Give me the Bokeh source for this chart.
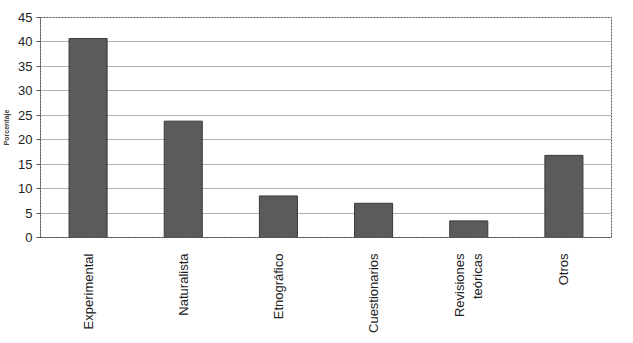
import math
from bokeh.plotting import figure
from bokeh.models import FactorRange, Range1d, FixedTicker, ColumnDataSource
from bokeh.embed import file_html
from bokeh.resources import INLINE

categories = ["Experimental", "Naturalista", "Etnográfico", "Cuestionarios",
              "Revisiones\nteóricas", "Otros"]
porcentaje = [40.7, 23.8, 8.5, 7.0, 3.4, 16.8]
y_ticks = [0, 5, 10, 15, 20, 25, 30, 35, 40, 45]

src = ColumnDataSource(dict(cat=categories, val=porcentaje))

p = figure(x_range=FactorRange(*categories), y_range=Range1d(0, 45),
           width=617, height=335, output_backend="svg", toolbar_location=None,
           min_border_left=40, min_border_right=6, min_border_top=17,
           min_border_bottom=95)

p.vbar(x="cat", top="val", width=0.4, source=src,
       fill_color="#5b5b5b", line_color="#3a3a3a", line_width=1)

p.background_fill_color = "white"
p.border_fill_color = "white"
p.outline_line_color = "#555555"
p.outline_line_dash = "2 1"
p.outline_line_width = 1

p.xgrid.grid_line_color = None
p.ygrid.grid_line_color = "#b0b0b0"
p.ygrid.grid_line_width = 1

p.yaxis.ticker = FixedTicker(ticks=y_ticks)
p.yaxis.axis_label = "Porcentaje"
p.yaxis.axis_label_text_font = "Liberation Sans"
p.yaxis.axis_label_text_font_size = "7px"
p.yaxis.axis_label_text_font_style = "bold"
p.yaxis.axis_label_standoff = 5
p.yaxis.major_label_text_font = "Liberation Sans"
p.yaxis.major_label_text_font_size = "13px"
p.yaxis.major_label_text_color = "#222222"
p.yaxis.major_label_standoff = 4
p.yaxis.axis_line_color = "#555555"
p.yaxis.axis_line_dash = "2 1"
p.yaxis.major_tick_line_color = "#555555"
p.yaxis.major_tick_in = 0
p.yaxis.major_tick_out = 4
p.yaxis.minor_tick_line_color = None

p.xaxis.major_label_orientation = math.pi / 2
p.xaxis.major_label_text_font = "Liberation Sans"
p.xaxis.major_label_text_font_size = "13px"
p.xaxis.major_label_text_color = "#222222"
p.xaxis.major_label_standoff = 10
p.xaxis.axis_line_color = "#555555"
p.xaxis.axis_line_dash = "2 1"
p.xaxis.major_tick_line_color = None

open("out.html", "w").write(file_html(p, INLINE))
